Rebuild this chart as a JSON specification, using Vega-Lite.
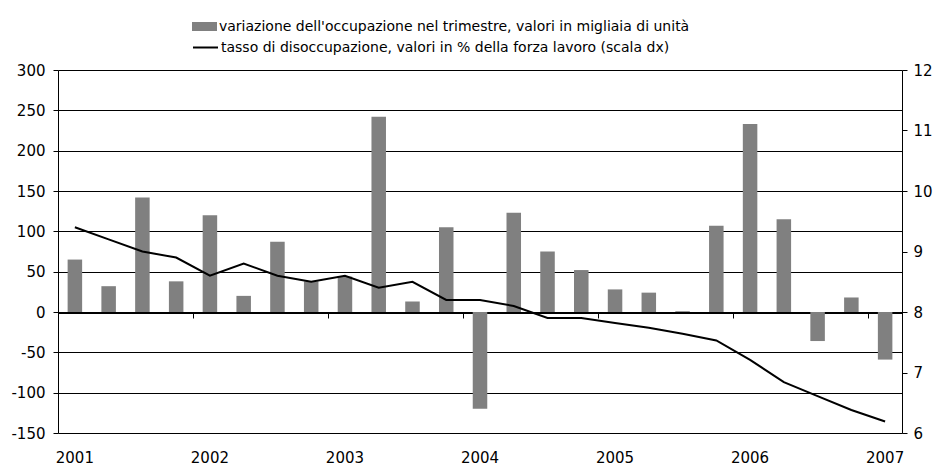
{
  "$schema": "https://vega.github.io/schema/vega-lite/v6.json",
  "width": 844,
  "height": 363,
  "autosize": "none",
  "padding": {"left": 58, "top": 70, "right": 34, "bottom": 33},
  "background": "#ffffff",
  "config": {
    "view": {"stroke": null},
    "font": "DejaVu Sans",
    "axis": {"labelFont": "DejaVu Sans", "labelColor": "#000000", "labelFontSize": 15, "tickColor": "#000000", "domainColor": "#000000", "titleFontSize": 0},
    "legend": {"labelFont": "DejaVu Sans", "labelColor": "#000000", "labelFontSize": 14, "padding": 0, "labelLimit": 800}
  },
  "data": {
    "values": [
      {"q": "2001 T1", "occ": 65, "dis": 9.4},
      {"q": "2001 T2", "occ": 32, "dis": 9.2},
      {"q": "2001 T3", "occ": 142, "dis": 9.0},
      {"q": "2001 T4", "occ": 38, "dis": 8.9},
      {"q": "2002 T1", "occ": 120, "dis": 8.6},
      {"q": "2002 T2", "occ": 20, "dis": 8.8},
      {"q": "2002 T3", "occ": 87, "dis": 8.6},
      {"q": "2002 T4", "occ": 38, "dis": 8.5},
      {"q": "2003 T1", "occ": 44, "dis": 8.6},
      {"q": "2003 T2", "occ": 242, "dis": 8.4},
      {"q": "2003 T3", "occ": 13, "dis": 8.5},
      {"q": "2003 T4", "occ": 105, "dis": 8.2},
      {"q": "2004 T1", "occ": -120, "dis": 8.2},
      {"q": "2004 T2", "occ": 123, "dis": 8.1},
      {"q": "2004 T3", "occ": 75, "dis": 7.9},
      {"q": "2004 T4", "occ": 52, "dis": 7.9},
      {"q": "2005 T1", "occ": 28, "dis": 7.82},
      {"q": "2005 T2", "occ": 24, "dis": 7.74},
      {"q": "2005 T3", "occ": 1, "dis": 7.64},
      {"q": "2005 T4", "occ": 107, "dis": 7.53},
      {"q": "2006 T1", "occ": 233, "dis": 7.21},
      {"q": "2006 T2", "occ": 115, "dis": 6.84},
      {"q": "2006 T3", "occ": -36, "dis": 6.61},
      {"q": "2006 T4", "occ": 18, "dis": 6.38},
      {"q": "2007 T1", "occ": -59, "dis": 6.19}
    ]
  },
  "layer": [
    {
      "mark": {"type": "bar", "width": {"band": 0.43}, "fill": "#808080"},
      "encoding": {
        "x": {
          "field": "q", "type": "ordinal", "sort": null,
          "scale": {"paddingInner": 0, "paddingOuter": 0},
          "axis": {
            "title": null,
            "orient": "bottom",
            "offset": -120,
            "values": ["2001 T1", "2002 T1", "2003 T1", "2004 T1", "2005 T1", "2006 T1", "2007 T1"],
            "bandPosition": 0,
            "labelExpr": "substring(datum.value, 0, 4)",
            "labelOffset": 0,
            "labelPadding": 132,
            "labelAngle": 0,
            "tickSize": 5,
            "grid": false,
            "domain": true
          }
        },
        "y": {
          "field": "occ", "type": "quantitative",
          "scale": {"domain": [-150, 300], "nice": false, "zero": false},
          "axis": {
            "title": null,
            "values": [-150, -100, -50, 0, 50, 100, 150, 200, 250, 300],
            "labelExpr": "'' + datum.value",
            "grid": true, "gridColor": "#000000", "gridWidth": 1,
            "tickSize": 5, "labelPadding": 8
          }
        },
        "color": {
          "datum": "variazione dell'occupazione nel trimestre, valori in migliaia di unità",
          "scale": {"range": ["#808080"]},
          "legend": {
            "title": null, "orient": "none", "legendX": 134, "legendY": -56,
            "symbolType": "M-1,-0.36H1V0.36H-1Z", "symbolSize": 625, "symbolStrokeWidth": 0,
            "labelOffset": 2
          }
        }
      }
    },
    {
      "mark": {"type": "line", "strokeWidth": 2},
      "encoding": {
        "x": {"field": "q", "type": "ordinal", "sort": null},
        "y": {
          "field": "dis", "type": "quantitative",
          "scale": {"domain": [6, 12], "nice": false, "zero": false},
          "axis": {
            "title": null, "orient": "right",
            "values": [6, 7, 8, 9, 10, 11, 12],
            "grid": false, "tickSize": 5, "labelPadding": 6
          }
        },
        "stroke": {
          "datum": "tasso di disoccupazione, valori in % della forza lavoro (scala dx)",
          "scale": {"range": ["#000000"]},
          "legend": {
            "title": null, "orient": "none", "legendX": 134, "legendY": -36,
            "symbolType": "stroke", "symbolSize": 625, "symbolStrokeWidth": 2,
            "labelOffset": 2
          }
        }
      }
    }
  ],
  "resolve": {"scale": {"y": "independent"}}
}
